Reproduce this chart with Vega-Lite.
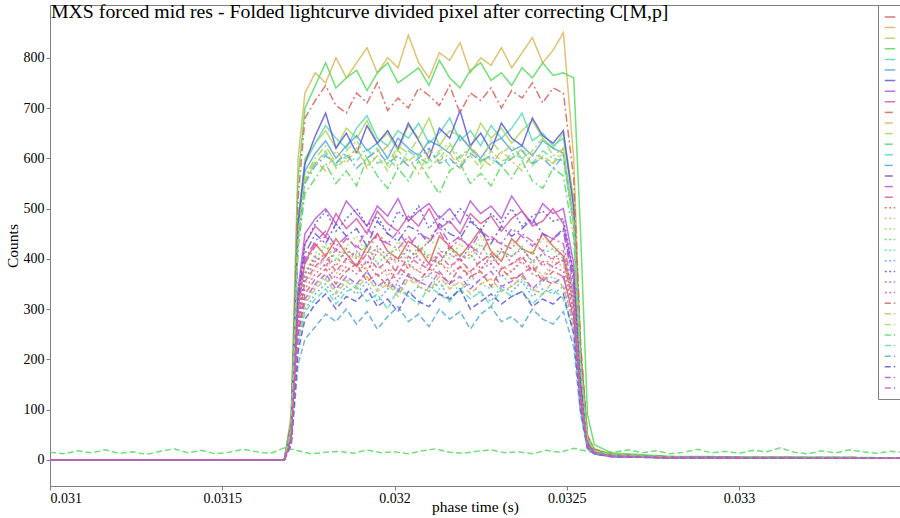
{
"$schema":"https://vega.github.io/schema/vega-lite/v6.json",
"autosize":{"type":"none"},
"width":850,"height":481,
"padding":{"left":50,"top":5,"right":0,"bottom":32},
"background":"white",
"title":{"text":"MXS forced mid res - Folded lightcurve divided pixel after correcting C[M,p]","anchor":"start","frame":"group","font":"Liberation Serif","fontSize":19.8,"fontWeight":"normal","color":"black","baseline":"alphabetic","offset":0,"dy":33,"dx":1},
"config":{"view":{"stroke":"#808080","strokeWidth":1},"axis":{"labelFont":"Liberation Serif","labelFontSize":14,"labelColor":"black","titleFont":"Liberation Serif","titleFontSize":15.5,"titleFontWeight":"normal","titleColor":"black","domainColor":"#808080","tickColor":"#808080","tickSize":4,"grid":false}},
"data":{"values":[
{"s":1,"x":0.031,"y":0},{"s":1,"x":0.03168,"y":0},{"s":1,"x":0.0317,"y":50},{"s":1,"x":0.03172,"y":300},
{"s":1,"x":0.03174,"y":395},{"s":1,"x":0.03177,"y":430},{"s":1,"x":0.0318,"y":405},{"s":1,"x":0.03183,"y":440},{"s":1,"x":0.03186,"y":410},{"s":1,"x":0.03189,"y":385},{"s":1,"x":0.03192,"y":425},{"s":1,"x":0.03195,"y":450},{"s":1,"x":0.03198,"y":415},{"s":1,"x":0.03201,"y":400},{"s":1,"x":0.03204,"y":435},{"s":1,"x":0.03207,"y":420},{"s":1,"x":0.0321,"y":390},{"s":1,"x":0.03213,"y":445},{"s":1,"x":0.03216,"y":425},{"s":1,"x":0.03219,"y":405},{"s":1,"x":0.03222,"y":430},{"s":1,"x":0.03225,"y":460},{"s":1,"x":0.03228,"y":415},{"s":1,"x":0.03231,"y":395},{"s":1,"x":0.03234,"y":440},{"s":1,"x":0.03237,"y":420},{"s":1,"x":0.0324,"y":410},{"s":1,"x":0.03243,"y":450},{"s":1,"x":0.03246,"y":425},{"s":1,"x":0.03249,"y":405},
{"s":1,"x":0.03252,"y":330},{"s":1,"x":0.03254,"y":140},{"s":1,"x":0.03256,"y":35},{"s":1,"x":0.03258,"y":18},{"s":1,"x":0.03263,"y":10},{"s":1,"x":0.0328,"y":6},{"s":1,"x":0.0335,"y":3},

{"s":2,"x":0.031,"y":0},{"s":2,"x":0.03168,"y":0},{"s":2,"x":0.0317,"y":90},{"s":2,"x":0.03172,"y":600},
{"s":2,"x":0.03174,"y":730},{"s":2,"x":0.03177,"y":770},{"s":2,"x":0.0318,"y":750},{"s":2,"x":0.03183,"y":800},{"s":2,"x":0.03186,"y":760},{"s":2,"x":0.03189,"y":790},{"s":2,"x":0.03192,"y":820},{"s":2,"x":0.03195,"y":770},{"s":2,"x":0.03198,"y":800},{"s":2,"x":0.03201,"y":780},{"s":2,"x":0.03204,"y":845},{"s":2,"x":0.03207,"y":790},{"s":2,"x":0.0321,"y":760},{"s":2,"x":0.03213,"y":810},{"s":2,"x":0.03216,"y":795},{"s":2,"x":0.03219,"y":830},{"s":2,"x":0.03222,"y":770},{"s":2,"x":0.03225,"y":800},{"s":2,"x":0.03228,"y":785},{"s":2,"x":0.03231,"y":820},{"s":2,"x":0.03234,"y":780},{"s":2,"x":0.03237,"y":810},{"s":2,"x":0.0324,"y":840},{"s":2,"x":0.03243,"y":790},{"s":2,"x":0.03246,"y":815},{"s":2,"x":0.03249,"y":850},
{"s":2,"x":0.03252,"y":600},{"s":2,"x":0.03254,"y":220},{"s":2,"x":0.03256,"y":50},{"s":2,"x":0.03258,"y":22},{"s":2,"x":0.03263,"y":12},{"s":2,"x":0.0328,"y":6},{"s":2,"x":0.0335,"y":4},

{"s":3,"x":0.031,"y":0},{"s":3,"x":0.03168,"y":0},{"s":3,"x":0.0317,"y":70},{"s":3,"x":0.03172,"y":470},
{"s":3,"x":0.03174,"y":600},{"s":3,"x":0.03177,"y":630},{"s":3,"x":0.0318,"y":655},{"s":3,"x":0.03183,"y":620},{"s":3,"x":0.03186,"y":660},{"s":3,"x":0.03189,"y":640},{"s":3,"x":0.03192,"y":675},{"s":3,"x":0.03195,"y":630},{"s":3,"x":0.03198,"y":650},{"s":3,"x":0.03201,"y":615},{"s":3,"x":0.03204,"y":665},{"s":3,"x":0.03207,"y":640},{"s":3,"x":0.0321,"y":680},{"s":3,"x":0.03213,"y":625},{"s":3,"x":0.03216,"y":655},{"s":3,"x":0.03219,"y":645},{"s":3,"x":0.03222,"y":620},{"s":3,"x":0.03225,"y":670},{"s":3,"x":0.03228,"y":640},{"s":3,"x":0.03231,"y":660},{"s":3,"x":0.03234,"y":630},{"s":3,"x":0.03237,"y":655},{"s":3,"x":0.0324,"y":675},{"s":3,"x":0.03243,"y":640},{"s":3,"x":0.03246,"y":620},{"s":3,"x":0.03249,"y":650},
{"s":3,"x":0.03252,"y":520},{"s":3,"x":0.03254,"y":230},{"s":3,"x":0.03256,"y":45},{"s":3,"x":0.03258,"y":20},{"s":3,"x":0.03263,"y":11},{"s":3,"x":0.0328,"y":6},{"s":3,"x":0.0335,"y":4},

{"s":4,"x":0.031,"y":0},{"s":4,"x":0.03168,"y":0},{"s":4,"x":0.0317,"y":80},{"s":4,"x":0.03172,"y":560},
{"s":4,"x":0.03174,"y":700},{"s":4,"x":0.03177,"y":745},{"s":4,"x":0.0318,"y":790},{"s":4,"x":0.03183,"y":740},{"s":4,"x":0.03186,"y":760},{"s":4,"x":0.03189,"y":775},{"s":4,"x":0.03192,"y":735},{"s":4,"x":0.03195,"y":770},{"s":4,"x":0.03198,"y":790},{"s":4,"x":0.03201,"y":750},{"s":4,"x":0.03204,"y":765},{"s":4,"x":0.03207,"y":780},{"s":4,"x":0.0321,"y":745},{"s":4,"x":0.03213,"y":795},{"s":4,"x":0.03216,"y":760},{"s":4,"x":0.03219,"y":740},{"s":4,"x":0.03222,"y":775},{"s":4,"x":0.03225,"y":790},{"s":4,"x":0.03228,"y":755},{"s":4,"x":0.03231,"y":770},{"s":4,"x":0.03234,"y":745},{"s":4,"x":0.03237,"y":780},{"s":4,"x":0.0324,"y":760},{"s":4,"x":0.03243,"y":790},{"s":4,"x":0.03246,"y":765},{"s":4,"x":0.03249,"y":770},
{"s":4,"x":0.03252,"y":760},{"s":4,"x":0.03254,"y":450},{"s":4,"x":0.03256,"y":90},{"s":4,"x":0.03258,"y":30},{"s":4,"x":0.03263,"y":14},{"s":4,"x":0.0328,"y":7},{"s":4,"x":0.0335,"y":4},

{"s":5,"x":0.031,"y":0},{"s":5,"x":0.03168,"y":0},{"s":5,"x":0.0317,"y":70},{"s":5,"x":0.03172,"y":480},
{"s":5,"x":0.03174,"y":590},{"s":5,"x":0.03177,"y":630},{"s":5,"x":0.0318,"y":665},{"s":5,"x":0.03183,"y":640},{"s":5,"x":0.03186,"y":620},{"s":5,"x":0.03189,"y":660},{"s":5,"x":0.03192,"y":685},{"s":5,"x":0.03195,"y":640},{"s":5,"x":0.03198,"y":625},{"s":5,"x":0.03201,"y":655},{"s":5,"x":0.03204,"y":640},{"s":5,"x":0.03207,"y":670},{"s":5,"x":0.0321,"y":630},{"s":5,"x":0.03213,"y":650},{"s":5,"x":0.03216,"y":680},{"s":5,"x":0.03219,"y":635},{"s":5,"x":0.03222,"y":655},{"s":5,"x":0.03225,"y":625},{"s":5,"x":0.03228,"y":665},{"s":5,"x":0.03231,"y":640},{"s":5,"x":0.03234,"y":660},{"s":5,"x":0.03237,"y":690},{"s":5,"x":0.0324,"y":635},{"s":5,"x":0.03243,"y":650},{"s":5,"x":0.03246,"y":625},{"s":5,"x":0.03249,"y":640},
{"s":5,"x":0.03252,"y":510},{"s":5,"x":0.03254,"y":200},{"s":5,"x":0.03256,"y":42},{"s":5,"x":0.03258,"y":20},{"s":5,"x":0.03263,"y":10},{"s":5,"x":0.0328,"y":6},{"s":5,"x":0.0335,"y":4},

{"s":6,"x":0.031,"y":0},{"s":6,"x":0.03168,"y":0},{"s":6,"x":0.0317,"y":60},{"s":6,"x":0.03172,"y":460},
{"s":6,"x":0.03174,"y":575},{"s":6,"x":0.03177,"y":610},{"s":6,"x":0.0318,"y":635},{"s":6,"x":0.03183,"y":600},{"s":6,"x":0.03186,"y":625},{"s":6,"x":0.03189,"y":645},{"s":6,"x":0.03192,"y":615},{"s":6,"x":0.03195,"y":630},{"s":6,"x":0.03198,"y":600},{"s":6,"x":0.03201,"y":640},{"s":6,"x":0.03204,"y":620},{"s":6,"x":0.03207,"y":605},{"s":6,"x":0.0321,"y":635},{"s":6,"x":0.03213,"y":625},{"s":6,"x":0.03216,"y":610},{"s":6,"x":0.03219,"y":645},{"s":6,"x":0.03222,"y":620},{"s":6,"x":0.03225,"y":600},{"s":6,"x":0.03228,"y":630},{"s":6,"x":0.03231,"y":640},{"s":6,"x":0.03234,"y":615},{"s":6,"x":0.03237,"y":625},{"s":6,"x":0.0324,"y":605},{"s":6,"x":0.03243,"y":635},{"s":6,"x":0.03246,"y":620},{"s":6,"x":0.03249,"y":610},
{"s":6,"x":0.03252,"y":480},{"s":6,"x":0.03254,"y":190},{"s":6,"x":0.03256,"y":40},{"s":6,"x":0.03258,"y":18},{"s":6,"x":0.03263,"y":10},{"s":6,"x":0.0328,"y":5},{"s":6,"x":0.0335,"y":4},

{"s":7,"x":0.031,"y":0},{"s":7,"x":0.03168,"y":0},{"s":7,"x":0.0317,"y":65},{"s":7,"x":0.03172,"y":470},
{"s":7,"x":0.03174,"y":590},{"s":7,"x":0.03177,"y":645},{"s":7,"x":0.0318,"y":690},{"s":7,"x":0.03183,"y":620},{"s":7,"x":0.03186,"y":650},{"s":7,"x":0.03189,"y":610},{"s":7,"x":0.03192,"y":665},{"s":7,"x":0.03195,"y":630},{"s":7,"x":0.03198,"y":655},{"s":7,"x":0.03201,"y":620},{"s":7,"x":0.03204,"y":670},{"s":7,"x":0.03207,"y":635},{"s":7,"x":0.0321,"y":600},{"s":7,"x":0.03213,"y":660},{"s":7,"x":0.03216,"y":640},{"s":7,"x":0.03219,"y":695},{"s":7,"x":0.03222,"y":625},{"s":7,"x":0.03225,"y":650},{"s":7,"x":0.03228,"y":615},{"s":7,"x":0.03231,"y":670},{"s":7,"x":0.03234,"y":640},{"s":7,"x":0.03237,"y":625},{"s":7,"x":0.0324,"y":680},{"s":7,"x":0.03243,"y":645},{"s":7,"x":0.03246,"y":630},{"s":7,"x":0.03249,"y":655},
{"s":7,"x":0.03252,"y":500},{"s":7,"x":0.03254,"y":210},{"s":7,"x":0.03256,"y":40},{"s":7,"x":0.03258,"y":19},{"s":7,"x":0.03263,"y":10},{"s":7,"x":0.0328,"y":5},{"s":7,"x":0.0335,"y":3},

{"s":8,"x":0.031,"y":0},{"s":8,"x":0.03168,"y":0},{"s":8,"x":0.0317,"y":50},{"s":8,"x":0.03172,"y":340},
{"s":8,"x":0.03174,"y":450},{"s":8,"x":0.03177,"y":480},{"s":8,"x":0.0318,"y":500},{"s":8,"x":0.03183,"y":470},{"s":8,"x":0.03186,"y":515},{"s":8,"x":0.03189,"y":490},{"s":8,"x":0.03192,"y":465},{"s":8,"x":0.03195,"y":505},{"s":8,"x":0.03198,"y":485},{"s":8,"x":0.03201,"y":520},{"s":8,"x":0.03204,"y":475},{"s":8,"x":0.03207,"y":495},{"s":8,"x":0.0321,"y":510},{"s":8,"x":0.03213,"y":480},{"s":8,"x":0.03216,"y":500},{"s":8,"x":0.03219,"y":470},{"s":8,"x":0.03222,"y":515},{"s":8,"x":0.03225,"y":490},{"s":8,"x":0.03228,"y":505},{"s":8,"x":0.03231,"y":480},{"s":8,"x":0.03234,"y":525},{"s":8,"x":0.03237,"y":495},{"s":8,"x":0.0324,"y":470},{"s":8,"x":0.03243,"y":510},{"s":8,"x":0.03246,"y":490},{"s":8,"x":0.03249,"y":500},
{"s":8,"x":0.03252,"y":390},{"s":8,"x":0.03254,"y":160},{"s":8,"x":0.03256,"y":35},{"s":8,"x":0.03258,"y":17},{"s":8,"x":0.03263,"y":9},{"s":8,"x":0.0328,"y":5},{"s":8,"x":0.0335,"y":3},

{"s":9,"x":0.031,"y":0},{"s":9,"x":0.03168,"y":0},{"s":9,"x":0.0317,"y":45},{"s":9,"x":0.03172,"y":320},
{"s":9,"x":0.03174,"y":430},{"s":9,"x":0.03177,"y":465},{"s":9,"x":0.0318,"y":445},{"s":9,"x":0.03183,"y":490},{"s":9,"x":0.03186,"y":460},{"s":9,"x":0.03189,"y":480},{"s":9,"x":0.03192,"y":450},{"s":9,"x":0.03195,"y":495},{"s":9,"x":0.03198,"y":470},{"s":9,"x":0.03201,"y":455},{"s":9,"x":0.03204,"y":485},{"s":9,"x":0.03207,"y":465},{"s":9,"x":0.0321,"y":500},{"s":9,"x":0.03213,"y":460},{"s":9,"x":0.03216,"y":475},{"s":9,"x":0.03219,"y":450},{"s":9,"x":0.03222,"y":490},{"s":9,"x":0.03225,"y":470},{"s":9,"x":0.03228,"y":485},{"s":9,"x":0.03231,"y":455},{"s":9,"x":0.03234,"y":480},{"s":9,"x":0.03237,"y":495},{"s":9,"x":0.0324,"y":465},{"s":9,"x":0.03243,"y":475},{"s":9,"x":0.03246,"y":500},{"s":9,"x":0.03249,"y":470},
{"s":9,"x":0.03252,"y":370},{"s":9,"x":0.03254,"y":150},{"s":9,"x":0.03256,"y":32},{"s":9,"x":0.03258,"y":16},{"s":9,"x":0.03263,"y":9},{"s":9,"x":0.0328,"y":5},{"s":9,"x":0.0335,"y":3},

{"s":10,"x":0.031,"y":0},{"s":10,"x":0.03168,"y":0},{"s":10,"x":0.0317,"y":75},{"s":10,"x":0.03172,"y":520},
{"s":10,"x":0.03174,"y":680},{"s":10,"x":0.03177,"y":715},{"s":10,"x":0.0318,"y":745},{"s":10,"x":0.03183,"y":705},{"s":10,"x":0.03186,"y":690},{"s":10,"x":0.03189,"y":730},{"s":10,"x":0.03192,"y":710},{"s":10,"x":0.03195,"y":750},{"s":10,"x":0.03198,"y":695},{"s":10,"x":0.03201,"y":720},{"s":10,"x":0.03204,"y":700},{"s":10,"x":0.03207,"y":740},{"s":10,"x":0.0321,"y":725},{"s":10,"x":0.03213,"y":705},{"s":10,"x":0.03216,"y":745},{"s":10,"x":0.03219,"y":690},{"s":10,"x":0.03222,"y":730},{"s":10,"x":0.03225,"y":715},{"s":10,"x":0.03228,"y":740},{"s":10,"x":0.03231,"y":700},{"s":10,"x":0.03234,"y":735},{"s":10,"x":0.03237,"y":720},{"s":10,"x":0.0324,"y":750},{"s":10,"x":0.03243,"y":710},{"s":10,"x":0.03246,"y":740},{"s":10,"x":0.03249,"y":730},
{"s":10,"x":0.03252,"y":560},{"s":10,"x":0.03254,"y":230},{"s":10,"x":0.03256,"y":48},{"s":10,"x":0.03258,"y":21},{"s":10,"x":0.03263,"y":11},{"s":10,"x":0.0328,"y":6},{"s":10,"x":0.0335,"y":4},

{"s":11,"x":0.031,"y":0},{"s":11,"x":0.03168,"y":0},{"s":11,"x":0.0317,"y":60},{"s":11,"x":0.03172,"y":440},
{"s":11,"x":0.03174,"y":560},{"s":11,"x":0.03177,"y":595},{"s":11,"x":0.0318,"y":575},{"s":11,"x":0.03183,"y":615},{"s":11,"x":0.03186,"y":590},{"s":11,"x":0.03189,"y":620},{"s":11,"x":0.03192,"y":580},{"s":11,"x":0.03195,"y":605},{"s":11,"x":0.03198,"y":625},{"s":11,"x":0.03201,"y":585},{"s":11,"x":0.03204,"y":600},{"s":11,"x":0.03207,"y":570},{"s":11,"x":0.0321,"y":615},{"s":11,"x":0.03213,"y":595},{"s":11,"x":0.03216,"y":610},{"s":11,"x":0.03219,"y":580},{"s":11,"x":0.03222,"y":625},{"s":11,"x":0.03225,"y":600},{"s":11,"x":0.03228,"y":585},{"s":11,"x":0.03231,"y":615},{"s":11,"x":0.03234,"y":595},{"s":11,"x":0.03237,"y":575},{"s":11,"x":0.0324,"y":610},{"s":11,"x":0.03243,"y":600},{"s":11,"x":0.03246,"y":590},{"s":11,"x":0.03249,"y":620},
{"s":11,"x":0.03252,"y":470},{"s":11,"x":0.03254,"y":190},{"s":11,"x":0.03256,"y":40},{"s":11,"x":0.03258,"y":18},{"s":11,"x":0.03263,"y":10},{"s":11,"x":0.0328,"y":5},{"s":11,"x":0.0335,"y":4},

{"s":12,"x":0.031,"y":0},{"s":12,"x":0.03168,"y":0},{"s":12,"x":0.0317,"y":60},{"s":12,"x":0.03172,"y":450},
{"s":12,"x":0.03174,"y":565},{"s":12,"x":0.03177,"y":600},{"s":12,"x":0.0318,"y":625},{"s":12,"x":0.03183,"y":590},{"s":12,"x":0.03186,"y":615},{"s":12,"x":0.03189,"y":635},{"s":12,"x":0.03192,"y":600},{"s":12,"x":0.03195,"y":620},{"s":12,"x":0.03198,"y":585},{"s":12,"x":0.03201,"y":625},{"s":12,"x":0.03204,"y":610},{"s":12,"x":0.03207,"y":640},{"s":12,"x":0.0321,"y":595},{"s":12,"x":0.03213,"y":615},{"s":12,"x":0.03216,"y":630},{"s":12,"x":0.03219,"y":600},{"s":12,"x":0.03222,"y":620},{"s":12,"x":0.03225,"y":590},{"s":12,"x":0.03228,"y":635},{"s":12,"x":0.03231,"y":610},{"s":12,"x":0.03234,"y":625},{"s":12,"x":0.03237,"y":600},{"s":12,"x":0.0324,"y":615},{"s":12,"x":0.03243,"y":640},{"s":12,"x":0.03246,"y":605},{"s":12,"x":0.03249,"y":620},
{"s":12,"x":0.03252,"y":480},{"s":12,"x":0.03254,"y":195},{"s":12,"x":0.03256,"y":40},{"s":12,"x":0.03258,"y":18},{"s":12,"x":0.03263,"y":10},{"s":12,"x":0.0328,"y":5},{"s":12,"x":0.0335,"y":4},

{"s":13,"x":0.031,"y":0},{"s":13,"x":0.03168,"y":0},{"s":13,"x":0.0317,"y":55},{"s":13,"x":0.03172,"y":420},
{"s":13,"x":0.03174,"y":530},{"s":13,"x":0.03177,"y":560},{"s":13,"x":0.0318,"y":590},{"s":13,"x":0.03183,"y":550},{"s":13,"x":0.03186,"y":575},{"s":13,"x":0.03189,"y":545},{"s":13,"x":0.03192,"y":600},{"s":13,"x":0.03195,"y":565},{"s":13,"x":0.03198,"y":540},{"s":13,"x":0.03201,"y":580},{"s":13,"x":0.03204,"y":555},{"s":13,"x":0.03207,"y":595},{"s":13,"x":0.0321,"y":560},{"s":13,"x":0.03213,"y":530},{"s":13,"x":0.03216,"y":575},{"s":13,"x":0.03219,"y":590},{"s":13,"x":0.03222,"y":550},{"s":13,"x":0.03225,"y":570},{"s":13,"x":0.03228,"y":545},{"s":13,"x":0.03231,"y":585},{"s":13,"x":0.03234,"y":560},{"s":13,"x":0.03237,"y":595},{"s":13,"x":0.0324,"y":555},{"s":13,"x":0.03243,"y":540},{"s":13,"x":0.03246,"y":580},{"s":13,"x":0.03249,"y":565},
{"s":13,"x":0.03252,"y":440},{"s":13,"x":0.03254,"y":180},{"s":13,"x":0.03256,"y":38},{"s":13,"x":0.03258,"y":17},{"s":13,"x":0.03263,"y":9},{"s":13,"x":0.0328,"y":5},{"s":13,"x":0.0335,"y":3},

{"s":14,"x":0.031,"y":0},{"s":14,"x":0.03168,"y":0},{"s":14,"x":0.0317,"y":60},{"s":14,"x":0.03172,"y":440},
{"s":14,"x":0.03174,"y":555},{"s":14,"x":0.03177,"y":590},{"s":14,"x":0.0318,"y":610},{"s":14,"x":0.03183,"y":585},{"s":14,"x":0.03186,"y":605},{"s":14,"x":0.03189,"y":595},{"s":14,"x":0.03192,"y":620},{"s":14,"x":0.03195,"y":590},{"s":14,"x":0.03198,"y":600},{"s":14,"x":0.03201,"y":580},{"s":14,"x":0.03204,"y":615},{"s":14,"x":0.03207,"y":600},{"s":14,"x":0.0321,"y":590},{"s":14,"x":0.03213,"y":610},{"s":14,"x":0.03216,"y":585},{"s":14,"x":0.03219,"y":605},{"s":14,"x":0.03222,"y":620},{"s":14,"x":0.03225,"y":595},{"s":14,"x":0.03228,"y":600},{"s":14,"x":0.03231,"y":585},{"s":14,"x":0.03234,"y":610},{"s":14,"x":0.03237,"y":600},{"s":14,"x":0.0324,"y":590},{"s":14,"x":0.03243,"y":615},{"s":14,"x":0.03246,"y":600},{"s":14,"x":0.03249,"y":595},
{"s":14,"x":0.03252,"y":470},{"s":14,"x":0.03254,"y":185},{"s":14,"x":0.03256,"y":40},{"s":14,"x":0.03258,"y":18},{"s":14,"x":0.03263,"y":10},{"s":14,"x":0.0328,"y":5},{"s":14,"x":0.0335,"y":4},

{"s":15,"x":0.031,"y":0},{"s":15,"x":0.03168,"y":0},{"s":15,"x":0.0317,"y":60},{"s":15,"x":0.03172,"y":430},
{"s":15,"x":0.03174,"y":550},{"s":15,"x":0.03177,"y":585},{"s":15,"x":0.0318,"y":605},{"s":15,"x":0.03183,"y":590},{"s":15,"x":0.03186,"y":610},{"s":15,"x":0.03189,"y":580},{"s":15,"x":0.03192,"y":600},{"s":15,"x":0.03195,"y":615},{"s":15,"x":0.03198,"y":590},{"s":15,"x":0.03201,"y":605},{"s":15,"x":0.03204,"y":585},{"s":15,"x":0.03207,"y":600},{"s":15,"x":0.0321,"y":620},{"s":15,"x":0.03213,"y":590},{"s":15,"x":0.03216,"y":600},{"s":15,"x":0.03219,"y":580},{"s":15,"x":0.03222,"y":610},{"s":15,"x":0.03225,"y":595},{"s":15,"x":0.03228,"y":605},{"s":15,"x":0.03231,"y":585},{"s":15,"x":0.03234,"y":600},{"s":15,"x":0.03237,"y":615},{"s":15,"x":0.0324,"y":590},{"s":15,"x":0.03243,"y":600},{"s":15,"x":0.03246,"y":580},{"s":15,"x":0.03249,"y":605},
{"s":15,"x":0.03252,"y":465},{"s":15,"x":0.03254,"y":180},{"s":15,"x":0.03256,"y":38},{"s":15,"x":0.03258,"y":17},{"s":15,"x":0.03263,"y":9},{"s":15,"x":0.0328,"y":5},{"s":15,"x":0.0335,"y":3},

{"s":16,"x":0.031,"y":0},{"s":16,"x":0.03168,"y":0},{"s":16,"x":0.0317,"y":45},{"s":16,"x":0.03172,"y":320},
{"s":16,"x":0.03174,"y":410},{"s":16,"x":0.03177,"y":450},{"s":16,"x":0.0318,"y":430},{"s":16,"x":0.03183,"y":470},{"s":16,"x":0.03186,"y":445},{"s":16,"x":0.03189,"y":460},{"s":16,"x":0.03192,"y":425},{"s":16,"x":0.03195,"y":475},{"s":16,"x":0.03198,"y":450},{"s":16,"x":0.03201,"y":435},{"s":16,"x":0.03204,"y":465},{"s":16,"x":0.03207,"y":455},{"s":16,"x":0.0321,"y":430},{"s":16,"x":0.03213,"y":470},{"s":16,"x":0.03216,"y":450},{"s":16,"x":0.03219,"y":440},{"s":16,"x":0.03222,"y":475},{"s":16,"x":0.03225,"y":455},{"s":16,"x":0.03228,"y":430},{"s":16,"x":0.03231,"y":465},{"s":16,"x":0.03234,"y":445},{"s":16,"x":0.03237,"y":460},{"s":16,"x":0.0324,"y":480},{"s":16,"x":0.03243,"y":450},{"s":16,"x":0.03246,"y":440},{"s":16,"x":0.03249,"y":460},
{"s":16,"x":0.03252,"y":355},{"s":16,"x":0.03254,"y":145},{"s":16,"x":0.03256,"y":32},{"s":16,"x":0.03258,"y":16},{"s":16,"x":0.03263,"y":9},{"s":16,"x":0.0328,"y":5},{"s":16,"x":0.0335,"y":3},

{"s":17,"x":0.031,"y":0},{"s":17,"x":0.03168,"y":0},{"s":17,"x":0.0317,"y":45},{"s":17,"x":0.03172,"y":310},
{"s":17,"x":0.03174,"y":400},{"s":17,"x":0.03177,"y":435},{"s":17,"x":0.0318,"y":455},{"s":17,"x":0.03183,"y":425},{"s":17,"x":0.03186,"y":445},{"s":17,"x":0.03189,"y":420},{"s":17,"x":0.03192,"y":460},{"s":17,"x":0.03195,"y":440},{"s":17,"x":0.03198,"y":430},{"s":17,"x":0.03201,"y":455},{"s":17,"x":0.03204,"y":425},{"s":17,"x":0.03207,"y":450},{"s":17,"x":0.0321,"y":440},{"s":17,"x":0.03213,"y":465},{"s":17,"x":0.03216,"y":430},{"s":17,"x":0.03219,"y":445},{"s":17,"x":0.03222,"y":420},{"s":17,"x":0.03225,"y":455},{"s":17,"x":0.03228,"y":440},{"s":17,"x":0.03231,"y":430},{"s":17,"x":0.03234,"y":460},{"s":17,"x":0.03237,"y":445},{"s":17,"x":0.0324,"y":425},{"s":17,"x":0.03243,"y":450},{"s":17,"x":0.03246,"y":440},{"s":17,"x":0.03249,"y":455},
{"s":17,"x":0.03252,"y":345},{"s":17,"x":0.03254,"y":140},{"s":17,"x":0.03256,"y":30},{"s":17,"x":0.03258,"y":15},{"s":17,"x":0.03263,"y":8},{"s":17,"x":0.0328,"y":5},{"s":17,"x":0.0335,"y":3},

{"s":18,"x":0.031,"y":0},{"s":18,"x":0.03168,"y":0},{"s":18,"x":0.0317,"y":40},{"s":18,"x":0.03172,"y":300},
{"s":18,"x":0.03174,"y":390},{"s":18,"x":0.03177,"y":425},{"s":18,"x":0.0318,"y":445},{"s":18,"x":0.03183,"y":415},{"s":18,"x":0.03186,"y":440},{"s":18,"x":0.03189,"y":425},{"s":18,"x":0.03192,"y":410},{"s":18,"x":0.03195,"y":450},{"s":18,"x":0.03198,"y":430},{"s":18,"x":0.03201,"y":420},{"s":18,"x":0.03204,"y":445},{"s":18,"x":0.03207,"y":415},{"s":18,"x":0.0321,"y":435},{"s":18,"x":0.03213,"y":455},{"s":18,"x":0.03216,"y":420},{"s":18,"x":0.03219,"y":440},{"s":18,"x":0.03222,"y":425},{"s":18,"x":0.03225,"y":410},{"s":18,"x":0.03228,"y":445},{"s":18,"x":0.03231,"y":430},{"s":18,"x":0.03234,"y":420},{"s":18,"x":0.03237,"y":450},{"s":18,"x":0.0324,"y":435},{"s":18,"x":0.03243,"y":415},{"s":18,"x":0.03246,"y":440},{"s":18,"x":0.03249,"y":430},
{"s":18,"x":0.03252,"y":335},{"s":18,"x":0.03254,"y":135},{"s":18,"x":0.03256,"y":30},{"s":18,"x":0.03258,"y":15},{"s":18,"x":0.03263,"y":8},{"s":18,"x":0.0328,"y":5},{"s":18,"x":0.0335,"y":3},

{"s":19,"x":0.031,"y":0},{"s":19,"x":0.03168,"y":0},{"s":19,"x":0.0317,"y":40},{"s":19,"x":0.03172,"y":280},
{"s":19,"x":0.03174,"y":360},{"s":19,"x":0.03177,"y":395},{"s":19,"x":0.0318,"y":410},{"s":19,"x":0.03183,"y":385},{"s":19,"x":0.03186,"y":420},{"s":19,"x":0.03189,"y":400},{"s":19,"x":0.03192,"y":375},{"s":19,"x":0.03195,"y":415},{"s":19,"x":0.03198,"y":395},{"s":19,"x":0.03201,"y":405},{"s":19,"x":0.03204,"y":380},{"s":19,"x":0.03207,"y":420},{"s":19,"x":0.0321,"y":400},{"s":19,"x":0.03213,"y":390},{"s":19,"x":0.03216,"y":425},{"s":19,"x":0.03219,"y":395},{"s":19,"x":0.03222,"y":410},{"s":19,"x":0.03225,"y":380},{"s":19,"x":0.03228,"y":405},{"s":19,"x":0.03231,"y":420},{"s":19,"x":0.03234,"y":390},{"s":19,"x":0.03237,"y":400},{"s":19,"x":0.0324,"y":415},{"s":19,"x":0.03243,"y":385},{"s":19,"x":0.03246,"y":405},{"s":19,"x":0.03249,"y":395},
{"s":19,"x":0.03252,"y":310},{"s":19,"x":0.03254,"y":125},{"s":19,"x":0.03256,"y":28},{"s":19,"x":0.03258,"y":14},{"s":19,"x":0.03263,"y":8},{"s":19,"x":0.0328,"y":4},{"s":19,"x":0.0335,"y":3},

{"s":20,"x":0.031,"y":0},{"s":20,"x":0.03168,"y":0},{"s":20,"x":0.0317,"y":38},{"s":20,"x":0.03172,"y":270},
{"s":20,"x":0.03174,"y":350},{"s":20,"x":0.03177,"y":380},{"s":20,"x":0.0318,"y":400},{"s":20,"x":0.03183,"y":370},{"s":20,"x":0.03186,"y":395},{"s":20,"x":0.03189,"y":410},{"s":20,"x":0.03192,"y":380},{"s":20,"x":0.03195,"y":390},{"s":20,"x":0.03198,"y":365},{"s":20,"x":0.03201,"y":405},{"s":20,"x":0.03204,"y":385},{"s":20,"x":0.03207,"y":375},{"s":20,"x":0.0321,"y":410},{"s":20,"x":0.03213,"y":390},{"s":20,"x":0.03216,"y":380},{"s":20,"x":0.03219,"y":400},{"s":20,"x":0.03222,"y":370},{"s":20,"x":0.03225,"y":395},{"s":20,"x":0.03228,"y":410},{"s":20,"x":0.03231,"y":385},{"s":20,"x":0.03234,"y":375},{"s":20,"x":0.03237,"y":400},{"s":20,"x":0.0324,"y":390},{"s":20,"x":0.03243,"y":365},{"s":20,"x":0.03246,"y":395},{"s":20,"x":0.03249,"y":385},
{"s":20,"x":0.03252,"y":300},{"s":20,"x":0.03254,"y":120},{"s":20,"x":0.03256,"y":27},{"s":20,"x":0.03258,"y":14},{"s":20,"x":0.03263,"y":8},{"s":20,"x":0.0328,"y":4},{"s":20,"x":0.0335,"y":3},

{"s":21,"x":0.031,"y":0},{"s":21,"x":0.03168,"y":0},{"s":21,"x":0.0317,"y":42},{"s":21,"x":0.03172,"y":295},
{"s":21,"x":0.03174,"y":375},{"s":21,"x":0.03177,"y":410},{"s":21,"x":0.0318,"y":430},{"s":21,"x":0.03183,"y":400},{"s":21,"x":0.03186,"y":425},{"s":21,"x":0.03189,"y":445},{"s":21,"x":0.03192,"y":410},{"s":21,"x":0.03195,"y":420},{"s":21,"x":0.03198,"y":395},{"s":21,"x":0.03201,"y":435},{"s":21,"x":0.03204,"y":415},{"s":21,"x":0.03207,"y":405},{"s":21,"x":0.0321,"y":440},{"s":21,"x":0.03213,"y":420},{"s":21,"x":0.03216,"y":400},{"s":21,"x":0.03219,"y":430},{"s":21,"x":0.03222,"y":410},{"s":21,"x":0.03225,"y":445},{"s":21,"x":0.03228,"y":415},{"s":21,"x":0.03231,"y":400},{"s":21,"x":0.03234,"y":435},{"s":21,"x":0.03237,"y":420},{"s":21,"x":0.0324,"y":410},{"s":21,"x":0.03243,"y":440},{"s":21,"x":0.03246,"y":425},{"s":21,"x":0.03249,"y":415},
{"s":21,"x":0.03252,"y":325},{"s":21,"x":0.03254,"y":130},{"s":21,"x":0.03256,"y":29},{"s":21,"x":0.03258,"y":15},{"s":21,"x":0.03263,"y":8},{"s":21,"x":0.0328,"y":5},{"s":21,"x":0.0335,"y":3},

{"s":22,"x":0.031,"y":0},{"s":22,"x":0.03168,"y":0},{"s":22,"x":0.0317,"y":40},{"s":22,"x":0.03172,"y":290},
{"s":22,"x":0.03174,"y":370},{"s":22,"x":0.03177,"y":400},{"s":22,"x":0.0318,"y":425},{"s":22,"x":0.03183,"y":395},{"s":22,"x":0.03186,"y":415},{"s":22,"x":0.03189,"y":405},{"s":22,"x":0.03192,"y":430},{"s":22,"x":0.03195,"y":390},{"s":22,"x":0.03198,"y":410},{"s":22,"x":0.03201,"y":420},{"s":22,"x":0.03204,"y":395},{"s":22,"x":0.03207,"y":425},{"s":22,"x":0.0321,"y":405},{"s":22,"x":0.03213,"y":390},{"s":22,"x":0.03216,"y":420},{"s":22,"x":0.03219,"y":410},{"s":22,"x":0.03222,"y":400},{"s":22,"x":0.03225,"y":430},{"s":22,"x":0.03228,"y":395},{"s":22,"x":0.03231,"y":415},{"s":22,"x":0.03234,"y":405},{"s":22,"x":0.03237,"y":425},{"s":22,"x":0.0324,"y":390},{"s":22,"x":0.03243,"y":410},{"s":22,"x":0.03246,"y":420},{"s":22,"x":0.03249,"y":400},
{"s":22,"x":0.03252,"y":320},{"s":22,"x":0.03254,"y":128},{"s":22,"x":0.03256,"y":28},{"s":22,"x":0.03258,"y":14},{"s":22,"x":0.03263,"y":8},{"s":22,"x":0.0328,"y":4},{"s":22,"x":0.0335,"y":3},

{"s":23,"x":0.031,"y":0},{"s":23,"x":0.03168,"y":0},{"s":23,"x":0.0317,"y":35},{"s":23,"x":0.03172,"y":245},
{"s":23,"x":0.03174,"y":315},{"s":23,"x":0.03177,"y":345},{"s":23,"x":0.0318,"y":365},{"s":23,"x":0.03183,"y":335},{"s":23,"x":0.03186,"y":360},{"s":23,"x":0.03189,"y":345},{"s":23,"x":0.03192,"y":375},{"s":23,"x":0.03195,"y":340},{"s":23,"x":0.03198,"y":355},{"s":23,"x":0.03201,"y":330},{"s":23,"x":0.03204,"y":365},{"s":23,"x":0.03207,"y":350},{"s":23,"x":0.0321,"y":370},{"s":23,"x":0.03213,"y":340},{"s":23,"x":0.03216,"y":355},{"s":23,"x":0.03219,"y":335},{"s":23,"x":0.03222,"y":365},{"s":23,"x":0.03225,"y":350},{"s":23,"x":0.03228,"y":340},{"s":23,"x":0.03231,"y":370},{"s":23,"x":0.03234,"y":345},{"s":23,"x":0.03237,"y":360},{"s":23,"x":0.0324,"y":335},{"s":23,"x":0.03243,"y":355},{"s":23,"x":0.03246,"y":365},{"s":23,"x":0.03249,"y":345},
{"s":23,"x":0.03252,"y":275},{"s":23,"x":0.03254,"y":110},{"s":23,"x":0.03256,"y":25},{"s":23,"x":0.03258,"y":13},{"s":23,"x":0.03263,"y":7},{"s":23,"x":0.0328,"y":4},{"s":23,"x":0.0335,"y":3},

{"s":24,"x":0.031,"y":0},{"s":24,"x":0.03168,"y":0},{"s":24,"x":0.0317,"y":34},{"s":24,"x":0.03172,"y":235},
{"s":24,"x":0.03174,"y":300},{"s":24,"x":0.03177,"y":330},{"s":24,"x":0.0318,"y":350},{"s":24,"x":0.03183,"y":320},{"s":24,"x":0.03186,"y":345},{"s":24,"x":0.03189,"y":330},{"s":24,"x":0.03192,"y":355},{"s":24,"x":0.03195,"y":315},{"s":24,"x":0.03198,"y":340},{"s":24,"x":0.03201,"y":350},{"s":24,"x":0.03204,"y":325},{"s":24,"x":0.03207,"y":345},{"s":24,"x":0.0321,"y":335},{"s":24,"x":0.03213,"y":355},{"s":24,"x":0.03216,"y":320},{"s":24,"x":0.03219,"y":340},{"s":24,"x":0.03222,"y":350},{"s":24,"x":0.03225,"y":330},{"s":24,"x":0.03228,"y":315},{"s":24,"x":0.03231,"y":345},{"s":24,"x":0.03234,"y":335},{"s":24,"x":0.03237,"y":355},{"s":24,"x":0.0324,"y":325},{"s":24,"x":0.03243,"y":340},{"s":24,"x":0.03246,"y":330},{"s":24,"x":0.03249,"y":345},
{"s":24,"x":0.03252,"y":265},{"s":24,"x":0.03254,"y":105},{"s":24,"x":0.03256,"y":24},{"s":24,"x":0.03258,"y":12},{"s":24,"x":0.03263,"y":7},{"s":24,"x":0.0328,"y":4},{"s":24,"x":0.0335,"y":3},

{"s":25,"x":0.031,"y":0},{"s":25,"x":0.03168,"y":0},{"s":25,"x":0.0317,"y":45},{"s":25,"x":0.03172,"y":330},
{"s":25,"x":0.03174,"y":430},{"s":25,"x":0.03177,"y":470},{"s":25,"x":0.0318,"y":495},{"s":25,"x":0.03183,"y":455},{"s":25,"x":0.03186,"y":480},{"s":25,"x":0.03189,"y":500},{"s":25,"x":0.03192,"y":465},{"s":25,"x":0.03195,"y":485},{"s":25,"x":0.03198,"y":450},{"s":25,"x":0.03201,"y":495},{"s":25,"x":0.03204,"y":475},{"s":25,"x":0.03207,"y":505},{"s":25,"x":0.0321,"y":460},{"s":25,"x":0.03213,"y":485},{"s":25,"x":0.03216,"y":470},{"s":25,"x":0.03219,"y":500},{"s":25,"x":0.03222,"y":480},{"s":25,"x":0.03225,"y":455},{"s":25,"x":0.03228,"y":490},{"s":25,"x":0.03231,"y":470},{"s":25,"x":0.03234,"y":500},{"s":25,"x":0.03237,"y":465},{"s":25,"x":0.0324,"y":485},{"s":25,"x":0.03243,"y":495},{"s":25,"x":0.03246,"y":475},{"s":25,"x":0.03249,"y":480},
{"s":25,"x":0.03252,"y":370},{"s":25,"x":0.03254,"y":150},{"s":25,"x":0.03256,"y":33},{"s":25,"x":0.03258,"y":16},{"s":25,"x":0.03263,"y":9},{"s":25,"x":0.0328,"y":5},{"s":25,"x":0.0335,"y":3},

{"s":26,"x":0.031,"y":0},{"s":26,"x":0.03168,"y":0},{"s":26,"x":0.0317,"y":40},{"s":26,"x":0.03172,"y":285},
{"s":26,"x":0.03174,"y":370},{"s":26,"x":0.03177,"y":405},{"s":26,"x":0.0318,"y":385},{"s":26,"x":0.03183,"y":420},{"s":26,"x":0.03186,"y":400},{"s":26,"x":0.03189,"y":415},{"s":26,"x":0.03192,"y":390},{"s":26,"x":0.03195,"y":425},{"s":26,"x":0.03198,"y":405},{"s":26,"x":0.03201,"y":395},{"s":26,"x":0.03204,"y":420},{"s":26,"x":0.03207,"y":400},{"s":26,"x":0.0321,"y":385},{"s":26,"x":0.03213,"y":415},{"s":26,"x":0.03216,"y":410},{"s":26,"x":0.03219,"y":395},{"s":26,"x":0.03222,"y":425},{"s":26,"x":0.03225,"y":400},{"s":26,"x":0.03228,"y":390},{"s":26,"x":0.03231,"y":415},{"s":26,"x":0.03234,"y":405},{"s":26,"x":0.03237,"y":420},{"s":26,"x":0.0324,"y":395},{"s":26,"x":0.03243,"y":410},{"s":26,"x":0.03246,"y":400},{"s":26,"x":0.03249,"y":415},
{"s":26,"x":0.03252,"y":320},{"s":26,"x":0.03254,"y":128},{"s":26,"x":0.03256,"y":28},{"s":26,"x":0.03258,"y":14},{"s":26,"x":0.03263,"y":8},{"s":26,"x":0.0328,"y":4},{"s":26,"x":0.0335,"y":3},

{"s":27,"x":0.031,"y":0},{"s":27,"x":0.03168,"y":0},{"s":27,"x":0.0317,"y":36},{"s":27,"x":0.03172,"y":265},
{"s":27,"x":0.03174,"y":340},{"s":27,"x":0.03177,"y":370},{"s":27,"x":0.0318,"y":390},{"s":27,"x":0.03183,"y":360},{"s":27,"x":0.03186,"y":385},{"s":27,"x":0.03189,"y":370},{"s":27,"x":0.03192,"y":395},{"s":27,"x":0.03195,"y":365},{"s":27,"x":0.03198,"y":380},{"s":27,"x":0.03201,"y":355},{"s":27,"x":0.03204,"y":390},{"s":27,"x":0.03207,"y":375},{"s":27,"x":0.0321,"y":365},{"s":27,"x":0.03213,"y":395},{"s":27,"x":0.03216,"y":370},{"s":27,"x":0.03219,"y":385},{"s":27,"x":0.03222,"y":360},{"s":27,"x":0.03225,"y":380},{"s":27,"x":0.03228,"y":390},{"s":27,"x":0.03231,"y":365},{"s":27,"x":0.03234,"y":375},{"s":27,"x":0.03237,"y":395},{"s":27,"x":0.0324,"y":370},{"s":27,"x":0.03243,"y":360},{"s":27,"x":0.03246,"y":385},{"s":27,"x":0.03249,"y":375},
{"s":27,"x":0.03252,"y":295},{"s":27,"x":0.03254,"y":118},{"s":27,"x":0.03256,"y":26},{"s":27,"x":0.03258,"y":13},{"s":27,"x":0.03263,"y":7},{"s":27,"x":0.0328,"y":4},{"s":27,"x":0.0335,"y":3},

{"s":28,"x":0.031,"y":0},{"s":28,"x":0.03168,"y":0},{"s":28,"x":0.0317,"y":36},{"s":28,"x":0.03172,"y":255},
{"s":28,"x":0.03174,"y":330},{"s":28,"x":0.03177,"y":360},{"s":28,"x":0.0318,"y":380},{"s":28,"x":0.03183,"y":350},{"s":28,"x":0.03186,"y":375},{"s":28,"x":0.03189,"y":390},{"s":28,"x":0.03192,"y":355},{"s":28,"x":0.03195,"y":370},{"s":28,"x":0.03198,"y":345},{"s":28,"x":0.03201,"y":385},{"s":28,"x":0.03204,"y":365},{"s":28,"x":0.03207,"y":355},{"s":28,"x":0.0321,"y":380},{"s":28,"x":0.03213,"y":370},{"s":28,"x":0.03216,"y":350},{"s":28,"x":0.03219,"y":385},{"s":28,"x":0.03222,"y":365},{"s":28,"x":0.03225,"y":375},{"s":28,"x":0.03228,"y":345},{"s":28,"x":0.03231,"y":380},{"s":28,"x":0.03234,"y":360},{"s":28,"x":0.03237,"y":370},{"s":28,"x":0.0324,"y":385},{"s":28,"x":0.03243,"y":355},{"s":28,"x":0.03246,"y":375},{"s":28,"x":0.03249,"y":365},
{"s":28,"x":0.03252,"y":285},{"s":28,"x":0.03254,"y":115},{"s":28,"x":0.03256,"y":26},{"s":28,"x":0.03258,"y":13},{"s":28,"x":0.03263,"y":7},{"s":28,"x":0.0328,"y":4},{"s":28,"x":0.0335,"y":3},

{"s":29,"x":0.031,"y":0},{"s":29,"x":0.03168,"y":0},{"s":29,"x":0.0317,"y":34},{"s":29,"x":0.03172,"y":240},
{"s":29,"x":0.03174,"y":310},{"s":29,"x":0.03177,"y":340},{"s":29,"x":0.0318,"y":360},{"s":29,"x":0.03183,"y":330},{"s":29,"x":0.03186,"y":355},{"s":29,"x":0.03189,"y":340},{"s":29,"x":0.03192,"y":365},{"s":29,"x":0.03195,"y":335},{"s":29,"x":0.03198,"y":350},{"s":29,"x":0.03201,"y":325},{"s":29,"x":0.03204,"y":360},{"s":29,"x":0.03207,"y":345},{"s":29,"x":0.0321,"y":335},{"s":29,"x":0.03213,"y":365},{"s":29,"x":0.03216,"y":340},{"s":29,"x":0.03219,"y":355},{"s":29,"x":0.03222,"y":330},{"s":29,"x":0.03225,"y":350},{"s":29,"x":0.03228,"y":360},{"s":29,"x":0.03231,"y":335},{"s":29,"x":0.03234,"y":345},{"s":29,"x":0.03237,"y":365},{"s":29,"x":0.0324,"y":340},{"s":29,"x":0.03243,"y":330},{"s":29,"x":0.03246,"y":355},{"s":29,"x":0.03249,"y":345},
{"s":29,"x":0.03252,"y":270},{"s":29,"x":0.03254,"y":108},{"s":29,"x":0.03256,"y":24},{"s":29,"x":0.03258,"y":12},{"s":29,"x":0.03263,"y":7},{"s":29,"x":0.0328,"y":4},{"s":29,"x":0.0335,"y":3},

{"s":30,"x":0.031,"y":0},{"s":30,"x":0.03168,"y":0},{"s":30,"x":0.0317,"y":58},{"s":30,"x":0.03172,"y":430},
{"s":30,"x":0.03174,"y":555},{"s":30,"x":0.03177,"y":590},{"s":30,"x":0.0318,"y":615},{"s":30,"x":0.03183,"y":580},{"s":30,"x":0.03186,"y":600},{"s":30,"x":0.03189,"y":620},{"s":30,"x":0.03192,"y":585},{"s":30,"x":0.03195,"y":605},{"s":30,"x":0.03198,"y":575},{"s":30,"x":0.03201,"y":615},{"s":30,"x":0.03204,"y":595},{"s":30,"x":0.03207,"y":610},{"s":30,"x":0.0321,"y":580},{"s":30,"x":0.03213,"y":600},{"s":30,"x":0.03216,"y":625},{"s":30,"x":0.03219,"y":590},{"s":30,"x":0.03222,"y":605},{"s":30,"x":0.03225,"y":580},{"s":30,"x":0.03228,"y":615},{"s":30,"x":0.03231,"y":595},{"s":30,"x":0.03234,"y":600},{"s":30,"x":0.03237,"y":620},{"s":30,"x":0.0324,"y":585},{"s":30,"x":0.03243,"y":605},{"s":30,"x":0.03246,"y":590},{"s":30,"x":0.03249,"y":610},
{"s":30,"x":0.03252,"y":465},{"s":30,"x":0.03254,"y":185},{"s":30,"x":0.03256,"y":40},{"s":30,"x":0.03258,"y":18},{"s":30,"x":0.03263,"y":10},{"s":30,"x":0.0328,"y":5},{"s":30,"x":0.0335,"y":4},

{"s":31,"x":0.031,"y":15},{"s":31,"x":0.03104,"y":12},{"s":31,"x":0.03108,"y":18},{"s":31,"x":0.03112,"y":14},{"s":31,"x":0.03116,"y":20},{"s":31,"x":0.0312,"y":13},{"s":31,"x":0.03124,"y":16},{"s":31,"x":0.03128,"y":11},{"s":31,"x":0.03132,"y":17},{"s":31,"x":0.03136,"y":22},{"s":31,"x":0.0314,"y":14},{"s":31,"x":0.03144,"y":19},{"s":31,"x":0.03148,"y":12},{"s":31,"x":0.03152,"y":15},{"s":31,"x":0.03156,"y":21},{"s":31,"x":0.0316,"y":16},{"s":31,"x":0.03164,"y":13},{"s":31,"x":0.03168,"y":24},{"s":31,"x":0.03172,"y":18},{"s":31,"x":0.03176,"y":12},{"s":31,"x":0.0318,"y":15},{"s":31,"x":0.03184,"y":17},{"s":31,"x":0.03188,"y":13},{"s":31,"x":0.03192,"y":20},{"s":31,"x":0.03196,"y":14},{"s":31,"x":0.032,"y":16},{"s":31,"x":0.03204,"y":12},{"s":31,"x":0.03208,"y":18},{"s":31,"x":0.03212,"y":22},{"s":31,"x":0.03216,"y":15},{"s":31,"x":0.0322,"y":13},{"s":31,"x":0.03224,"y":17},{"s":31,"x":0.03228,"y":20},{"s":31,"x":0.03232,"y":14},{"s":31,"x":0.03236,"y":16},{"s":31,"x":0.0324,"y":12},{"s":31,"x":0.03244,"y":19},{"s":31,"x":0.03248,"y":15},{"s":31,"x":0.03252,"y":23},{"s":31,"x":0.03256,"y":17},{"s":31,"x":0.0326,"y":13},{"s":31,"x":0.03264,"y":16},{"s":31,"x":0.03268,"y":20},{"s":31,"x":0.03272,"y":14},{"s":31,"x":0.03276,"y":18},{"s":31,"x":0.0328,"y":12},{"s":31,"x":0.03284,"y":15},{"s":31,"x":0.03288,"y":21},{"s":31,"x":0.03292,"y":14},{"s":31,"x":0.03296,"y":17},{"s":31,"x":0.033,"y":13},{"s":31,"x":0.03304,"y":19},{"s":31,"x":0.03308,"y":16},{"s":31,"x":0.03312,"y":24},{"s":31,"x":0.03316,"y":15},{"s":31,"x":0.0332,"y":12},{"s":31,"x":0.03324,"y":18},{"s":31,"x":0.03328,"y":14},{"s":31,"x":0.03332,"y":20},{"s":31,"x":0.03336,"y":16},{"s":31,"x":0.0334,"y":13},{"s":31,"x":0.03344,"y":17},{"s":31,"x":0.03348,"y":15},

{"s":32,"x":0.031,"y":0},{"s":32,"x":0.03168,"y":0},{"s":32,"x":0.0317,"y":32},{"s":32,"x":0.03172,"y":225},
{"s":32,"x":0.03174,"y":295},{"s":32,"x":0.03177,"y":320},{"s":32,"x":0.0318,"y":340},{"s":32,"x":0.03183,"y":310},{"s":32,"x":0.03186,"y":335},{"s":32,"x":0.03189,"y":345},{"s":32,"x":0.03192,"y":315},{"s":32,"x":0.03195,"y":330},{"s":32,"x":0.03198,"y":300},{"s":32,"x":0.03201,"y":340},{"s":32,"x":0.03204,"y":325},{"s":32,"x":0.03207,"y":310},{"s":32,"x":0.0321,"y":345},{"s":32,"x":0.03213,"y":330},{"s":32,"x":0.03216,"y":315},{"s":32,"x":0.03219,"y":340},{"s":32,"x":0.03222,"y":320},{"s":32,"x":0.03225,"y":335},{"s":32,"x":0.03228,"y":305},{"s":32,"x":0.03231,"y":340},{"s":32,"x":0.03234,"y":325},{"s":32,"x":0.03237,"y":335},{"s":32,"x":0.0324,"y":310},{"s":32,"x":0.03243,"y":330},{"s":32,"x":0.03246,"y":340},{"s":32,"x":0.03249,"y":320},
{"s":32,"x":0.03252,"y":255},{"s":32,"x":0.03254,"y":102},{"s":32,"x":0.03256,"y":23},{"s":32,"x":0.03258,"y":12},{"s":32,"x":0.03263,"y":7},{"s":32,"x":0.0328,"y":4},{"s":32,"x":0.0335,"y":3},

{"s":33,"x":0.031,"y":0},{"s":33,"x":0.03168,"y":0},{"s":33,"x":0.0317,"y":28},{"s":33,"x":0.03172,"y":190},
{"s":33,"x":0.03174,"y":240},{"s":33,"x":0.03177,"y":265},{"s":33,"x":0.0318,"y":290},{"s":33,"x":0.03183,"y":275},{"s":33,"x":0.03186,"y":300},{"s":33,"x":0.03189,"y":270},{"s":33,"x":0.03192,"y":295},{"s":33,"x":0.03195,"y":260},{"s":33,"x":0.03198,"y":285},{"s":33,"x":0.03201,"y":305},{"s":33,"x":0.03204,"y":275},{"s":33,"x":0.03207,"y":290},{"s":33,"x":0.0321,"y":265},{"s":33,"x":0.03213,"y":300},{"s":33,"x":0.03216,"y":280},{"s":33,"x":0.03219,"y":295},{"s":33,"x":0.03222,"y":260},{"s":33,"x":0.03225,"y":290},{"s":33,"x":0.03228,"y":305},{"s":33,"x":0.03231,"y":275},{"s":33,"x":0.03234,"y":285},{"s":33,"x":0.03237,"y":265},{"s":33,"x":0.0324,"y":300},{"s":33,"x":0.03243,"y":280},{"s":33,"x":0.03246,"y":270},{"s":33,"x":0.03249,"y":295},
{"s":33,"x":0.03252,"y":225},{"s":33,"x":0.03254,"y":90},{"s":33,"x":0.03256,"y":21},{"s":33,"x":0.03258,"y":11},{"s":33,"x":0.03263,"y":6},{"s":33,"x":0.0328,"y":4},{"s":33,"x":0.0335,"y":3},

{"s":34,"x":0.031,"y":0},{"s":34,"x":0.03168,"y":0},{"s":34,"x":0.0317,"y":32},{"s":34,"x":0.03172,"y":215},
{"s":34,"x":0.03174,"y":280},{"s":34,"x":0.03177,"y":310},{"s":34,"x":0.0318,"y":330},{"s":34,"x":0.03183,"y":300},{"s":34,"x":0.03186,"y":325},{"s":34,"x":0.03189,"y":315},{"s":34,"x":0.03192,"y":340},{"s":34,"x":0.03195,"y":305},{"s":34,"x":0.03198,"y":320},{"s":34,"x":0.03201,"y":295},{"s":34,"x":0.03204,"y":335},{"s":34,"x":0.03207,"y":315},{"s":34,"x":0.0321,"y":305},{"s":34,"x":0.03213,"y":330},{"s":34,"x":0.03216,"y":320},{"s":34,"x":0.03219,"y":340},{"s":34,"x":0.03222,"y":300},{"s":34,"x":0.03225,"y":315},{"s":34,"x":0.03228,"y":330},{"s":34,"x":0.03231,"y":310},{"s":34,"x":0.03234,"y":325},{"s":34,"x":0.03237,"y":335},{"s":34,"x":0.0324,"y":305},{"s":34,"x":0.03243,"y":320},{"s":34,"x":0.03246,"y":310},{"s":34,"x":0.03249,"y":330},
{"s":34,"x":0.03252,"y":250},{"s":34,"x":0.03254,"y":100},{"s":34,"x":0.03256,"y":23},{"s":34,"x":0.03258,"y":12},{"s":34,"x":0.03263,"y":6},{"s":34,"x":0.0328,"y":4},{"s":34,"x":0.0335,"y":3},

{"s":35,"x":0.031,"y":0},{"s":35,"x":0.03168,"y":0},{"s":35,"x":0.0317,"y":35},{"s":35,"x":0.03172,"y":250},
{"s":35,"x":0.03174,"y":320},{"s":35,"x":0.03177,"y":350},{"s":35,"x":0.0318,"y":370},{"s":35,"x":0.03183,"y":340},{"s":35,"x":0.03186,"y":365},{"s":35,"x":0.03189,"y":350},{"s":35,"x":0.03192,"y":375},{"s":35,"x":0.03195,"y":345},{"s":35,"x":0.03198,"y":360},{"s":35,"x":0.03201,"y":335},{"s":35,"x":0.03204,"y":370},{"s":35,"x":0.03207,"y":355},{"s":35,"x":0.0321,"y":345},{"s":35,"x":0.03213,"y":375},{"s":35,"x":0.03216,"y":350},{"s":35,"x":0.03219,"y":365},{"s":35,"x":0.03222,"y":340},{"s":35,"x":0.03225,"y":360},{"s":35,"x":0.03228,"y":375},{"s":35,"x":0.03231,"y":345},{"s":35,"x":0.03234,"y":355},{"s":35,"x":0.03237,"y":370},{"s":35,"x":0.0324,"y":340},{"s":35,"x":0.03243,"y":360},{"s":35,"x":0.03246,"y":350},{"s":35,"x":0.03249,"y":365},
{"s":35,"x":0.03252,"y":280},{"s":35,"x":0.03254,"y":112},{"s":35,"x":0.03256,"y":25},{"s":35,"x":0.03258,"y":13},{"s":35,"x":0.03263,"y":7},{"s":35,"x":0.0328,"y":4},{"s":35,"x":0.0335,"y":3},

{"s":36,"x":0.031,"y":0},{"s":36,"x":0.03168,"y":0},{"s":36,"x":0.0317,"y":38},{"s":36,"x":0.03172,"y":275},
{"s":36,"x":0.03174,"y":355},{"s":36,"x":0.03177,"y":385},{"s":36,"x":0.0318,"y":405},{"s":36,"x":0.03183,"y":375},{"s":36,"x":0.03186,"y":400},{"s":36,"x":0.03189,"y":385},{"s":36,"x":0.03192,"y":410},{"s":36,"x":0.03195,"y":380},{"s":36,"x":0.03198,"y":395},{"s":36,"x":0.03201,"y":370},{"s":36,"x":0.03204,"y":405},{"s":36,"x":0.03207,"y":390},{"s":36,"x":0.0321,"y":380},{"s":36,"x":0.03213,"y":410},{"s":36,"x":0.03216,"y":385},{"s":36,"x":0.03219,"y":400},{"s":36,"x":0.03222,"y":375},{"s":36,"x":0.03225,"y":395},{"s":36,"x":0.03228,"y":410},{"s":36,"x":0.03231,"y":380},{"s":36,"x":0.03234,"y":390},{"s":36,"x":0.03237,"y":405},{"s":36,"x":0.0324,"y":375},{"s":36,"x":0.03243,"y":395},{"s":36,"x":0.03246,"y":385},{"s":36,"x":0.03249,"y":400},
{"s":36,"x":0.03252,"y":305},{"s":36,"x":0.03254,"y":122},{"s":36,"x":0.03256,"y":27},{"s":36,"x":0.03258,"y":14},{"s":36,"x":0.03263,"y":8},{"s":36,"x":0.0328,"y":4},{"s":36,"x":0.0335,"y":3}
]},
"mark":{"type":"line","strokeWidth":1.5,"opacity":0.85,"clip":true},
"encoding":{
"x":{"field":"x","type":"quantitative","scale":{"domain":[0.031,0.033467],"nice":false,"zero":false},"axis":{"title":"phase time (s)","values":[0.031,0.0315,0.032,0.0325,0.033],"format":"~g","labelPadding":1,"titleY":25,"titleBaseline":"alphabetic"}},
"y":{"field":"y","type":"quantitative","scale":{"domain":[-52,905],"nice":false,"zero":false},"axis":{"title":"Counts","values":[0,100,200,300,400,500,600,700,800],"format":"d","labelPadding":2,"titlePadding":3}},
"color":{"field":"s","type":"nominal","scale":{"domain":[1,2,3,4,5,6,7,8,9,10,11,12,13,14,15,16,17,18,19,20,21,22,23,24,25,26,27,28,29,30,31,32,33,34,35,36],"range":["#db5f57","#dbb757","#a7db57","#57db5f","#57dbb7","#57a7db","#5f57db","#b757db","#db57a7","#db5f57","#dbb757","#a7db57","#57db5f","#57dbb7","#57a7db","#5f57db","#b757db","#db57a7","#db5f57","#dbb757","#a7db57","#57db5f","#57dbb7","#57a7db","#5f57db","#b757db","#db57a7","#db5f57","#dbb757","#a7db57","#57db5f","#57dbb7","#57a7db","#5f57db","#b757db","#db57a7"]},
"legend":{"orient":"none","legendX":828,"legendY":0,"title":null,"labelExpr":"''","symbolType":"stroke","symbolSize":110,"symbolStrokeWidth":1.5,"symbolOpacity":0.85,"rowPadding":0.6,"padding":6,"strokeColor":"#808080","fillColor":"white","symbolLimit":0,"labelFontSize":8}},
"strokeDash":{"field":"s","type":"nominal","scale":{"domain":[1,2,3,4,5,6,7,8,9,10,11,12,13,14,15,16,17,18,19,20,21,22,23,24,25,26,27,28,29,30,31,32,33,34,35,36],"range":[[1,0],[1,0],[1,0],[1,0],[1,0],[1,0],[1,0],[1,0],[1,0],[8,3,2,3],[8,3,2,3],[8,3,2,3],[8,3,2,3],[8,3,2,3],[8,3,2,3],[8,3,2,3],[8,3,2,3],[8,3,2,3],[2,2.5],[2,2.5],[2,2.5],[2,2.5],[2,2.5],[2,2.5],[2,2.5],[2,2.5],[2,2.5],[6,3],[6,3],[6,3],[6,3],[6,3],[6,3],[6,3],[6,3],[6,3]]},
"legend":{"orient":"none","legendX":828,"legendY":0,"title":null,"labelExpr":"''","symbolType":"stroke","symbolSize":110,"symbolStrokeWidth":1.5,"symbolOpacity":0.85,"rowPadding":0.6,"padding":6,"strokeColor":"#808080","fillColor":"white","symbolLimit":0,"labelFontSize":8}}
}
}
